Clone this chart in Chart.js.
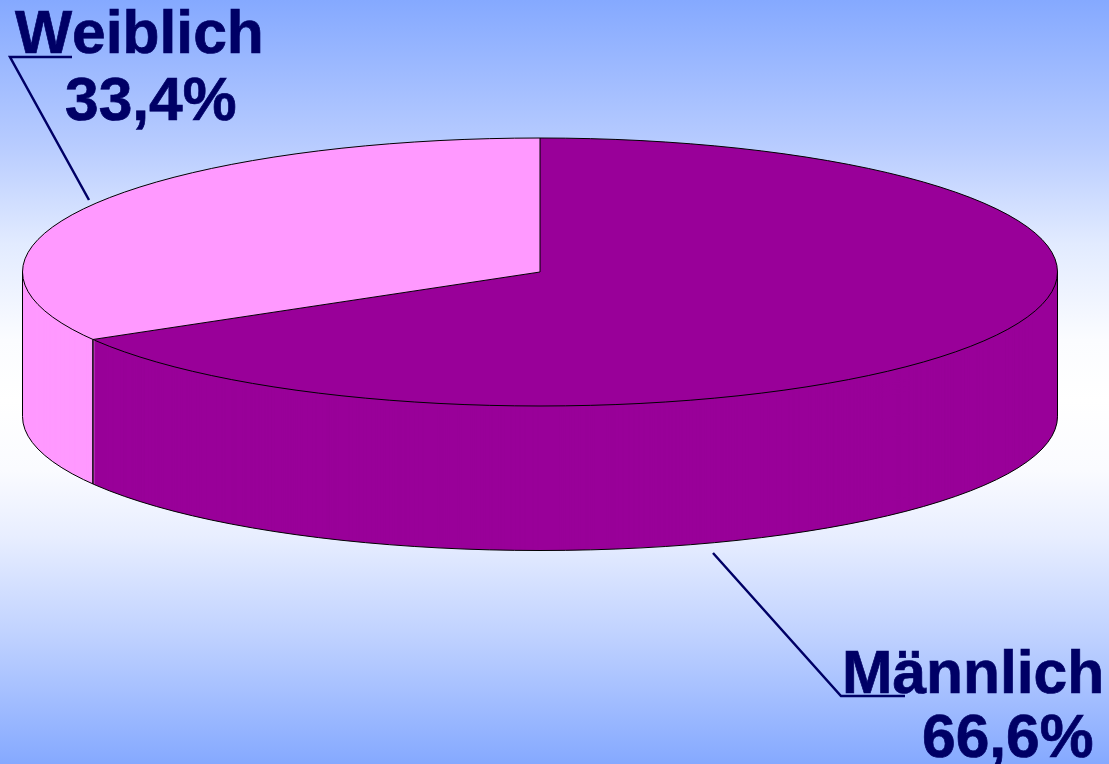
<!DOCTYPE html>
<html>
<head>
<meta charset="utf-8">
<style>
html,body{margin:0;padding:0;width:1109px;height:764px;overflow:hidden;background:#fff}
canvas{display:block;background:linear-gradient(to bottom,#85a9ff 0px,#b8ccff 146px,#e2ebff 244px,#fbfcff 340px,#ffffff 400px,#fafbff 470px,#e8eeff 536px,#c0d2ff 634px,#85a9ff 764px)}
</style>
<script src="https://cdn.jsdelivr.net/npm/chart.js@4"></script>
</head>
<body>
<canvas id="c" width="1109" height="764"></canvas>
<script>
const categories = ["Männlich", "Weiblich"];
const values = [66.6, 33.4];
const colors = ["#990099", "#FF99FF"];

const projection = {cx: 540, cy: 272, rx: 517.5, ry: 134, depth: 144.5};
const labelPlacement = {
  "Männlich": {x: 842, y: 693, vx: 922, vy: 757, leader: [[713,553],[841,696],[905,696]]},
  "Weiblich": {x: 15, y: 53, vx: 65, vy: 120, leader: [[89,200],[10,57],[72,57]]}
};
const textColor = "#000066";

function applyProjection(ctx, el, dy) {
  const R = el.outerRadius;
  ctx.translate(projection.cx, projection.cy + dy);
  ctx.scale(projection.rx / R, projection.ry / R);
  ctx.translate(-el.x, -el.y);
}

const tiltPlugin = {
  id: "tilt",
  beforeDatasetsDraw(chart) {
    const ctx = chart.ctx, arcs = chart.getDatasetMeta(0).data;
    // extruded side wall: the later-drawn slice covers the earlier one at the seam
    for (let i = arcs.length - 1; i >= 0; i--) {
      for (let dy = projection.depth; dy >= 1; dy--) {
        ctx.save();
        applyProjection(ctx, arcs[i], dy);
        arcs[i].draw(ctx);
        ctx.restore();
      }
    }
    ctx.save();
    applyProjection(ctx, arcs[0], 0);
  },
  afterDatasetsDraw(chart) {
    const ctx = chart.ctx, arcs = chart.getDatasetMeta(0).data;
    ctx.restore();
    const {cx, cy, rx, ry, depth} = projection;
    ctx.save();
    ctx.strokeStyle = "#000";
    ctx.lineWidth = 1;
    ctx.beginPath();
    ctx.ellipse(cx, cy, rx, ry, 0, 0, Math.PI * 2);
    ctx.moveTo(cx + rx, cy);
    ctx.lineTo(cx + rx, cy + depth);
    ctx.ellipse(cx, cy + depth, rx, ry, 0, 0, Math.PI);
    ctx.lineTo(cx - rx, cy);
    const a0 = arcs[0].startAngle, a1 = arcs[0].endAngle;
    const px = cx + rx * Math.cos(a1), py = cy + ry * Math.sin(a1);
    ctx.moveTo(cx + rx * Math.cos(a0), cy + ry * Math.sin(a0));
    ctx.lineTo(cx, cy);
    ctx.lineTo(px, py);
    ctx.stroke();
    ctx.lineWidth = 1.5;
    ctx.beginPath();
    ctx.moveTo(px, py);
    ctx.lineTo(px, py + depth);
    ctx.stroke();
    ctx.restore();

    ctx.save();
    ctx.fillStyle = textColor;
    ctx.strokeStyle = textColor;
    ctx.font = "bold 60.5px 'Liberation Sans', Arial, sans-serif";
    ctx.fontKerning = "none";
    ctx.textAlign = "left";
    ctx.textBaseline = "alphabetic";
    categories.forEach((name, i) => {
      const p = labelPlacement[name];
      const pct = values[i].toFixed(1).replace(".", ",") + "%";
      ctx.lineWidth = 0.7;
      ctx.fillText(name, p.x, p.y);
      ctx.strokeText(name, p.x, p.y);
      ctx.fillText(pct, p.vx, p.vy);
      ctx.strokeText(pct, p.vx, p.vy);
      ctx.lineWidth = 2.5;
      ctx.beginPath();
      p.leader.forEach((q, k) => k ? ctx.lineTo(q[0], q[1]) : ctx.moveTo(q[0], q[1]));
      ctx.stroke();
    });
    ctx.restore();
  }
};

new Chart(document.getElementById("c"), {
  type: "pie",
  data: {
    labels: categories,
    datasets: [{data: values, backgroundColor: colors, borderWidth: 0, hoverOffset: 0}]
  },
  options: {
    responsive: false,
    animation: false,
    events: [],
    layout: {padding: 0},
    plugins: {legend: {display: false}, tooltip: {enabled: false}, title: {display: false}}
  },
  plugins: [tiltPlugin]
});
</script>
</body>
</html>
